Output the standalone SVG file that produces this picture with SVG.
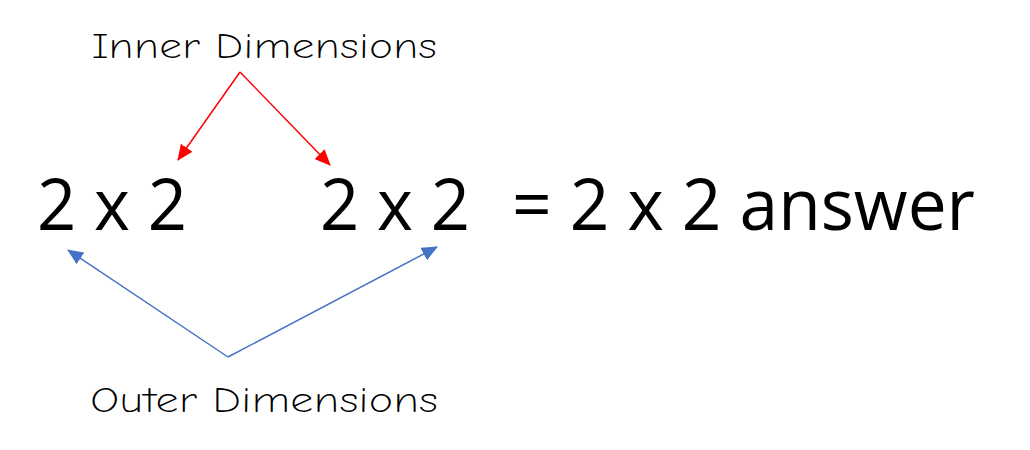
<svg xmlns="http://www.w3.org/2000/svg" width="1030" height="450" viewBox="0 0 1030 450">
<style>
.big{font-family:"Open Sans","Liberation Sans",sans-serif;font-size:72px;fill:#000}
.hand{font-family:"Comic Neue","DejaVu Sans",sans-serif;font-size:36px;fill:#000;font-weight:300}
</style>
<defs>
<marker id="ar" markerWidth="16" markerHeight="14" refX="15" refY="7" orient="auto" markerUnits="userSpaceOnUse"><path d="M0,0L16,7L0,14z" fill="#f00"/></marker>
<marker id="ab" markerWidth="16" markerHeight="14" refX="15" refY="7" orient="auto" markerUnits="userSpaceOnUse"><path d="M0,0L16,7L0,14z" fill="#4472c4"/></marker>
</defs>
<rect width="1030" height="450" fill="#fff"/>
<g id="m1"><text class="big" x="37" y="230" textLength="150" lengthAdjust="spacingAndGlyphs">2 x 2</text></g>
<g id="m2"><text class="big" x="320" y="230" textLength="150" lengthAdjust="spacingAndGlyphs">2 x 2</text></g>
<g id="res"><text class="big" x="512" y="230" textLength="463" lengthAdjust="spacingAndGlyphs">= 2 x 2 answer</text></g>
<g id="inner"><text class="hand" x="92" y="58" textLength="345" lengthAdjust="spacingAndGlyphs">Inner Dimensions</text></g>
<g id="outer"><text class="hand" x="90" y="412" textLength="348" lengthAdjust="spacingAndGlyphs">Outer Dimensions</text></g>
<g id="connectors" stroke-width="1.5" fill="none">
<path d="M240,72L178,160" stroke="#f00" marker-end="url(#ar)"/>
<path d="M240,72L330,165" stroke="#f00" marker-end="url(#ar)"/>
<path d="M228,357L68,250" stroke="#4472c4" marker-end="url(#ab)"/>
<path d="M228,357L437,247" stroke="#4472c4" marker-end="url(#ab)"/>
</g>
</svg>
